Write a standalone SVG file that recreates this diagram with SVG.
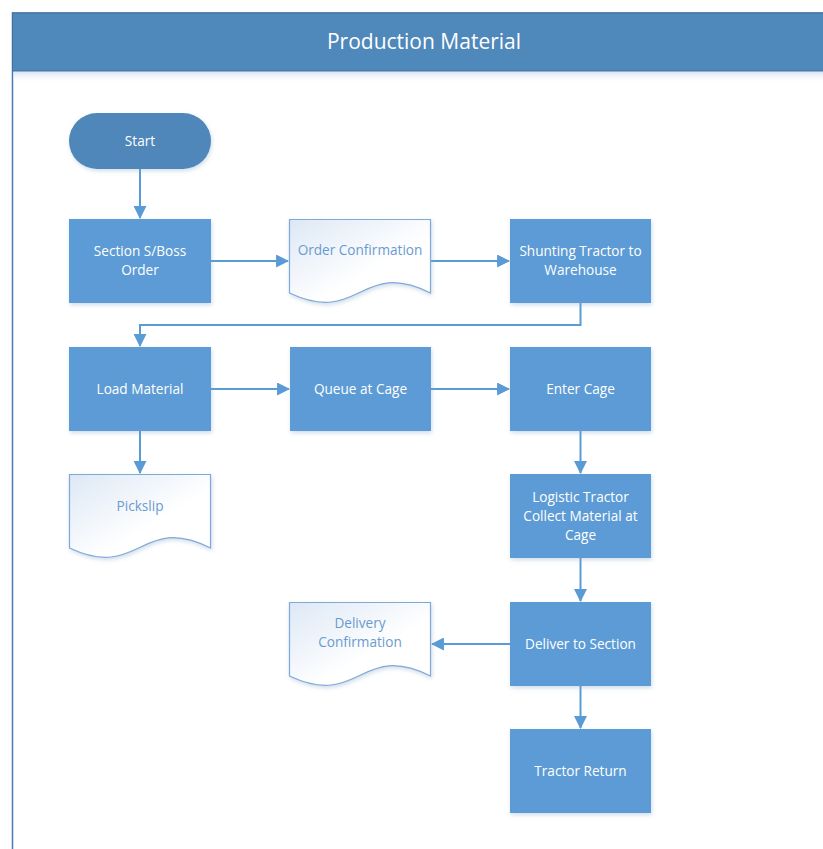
<svg xmlns="http://www.w3.org/2000/svg" width="823" height="849" viewBox="0 0 823 849">
  <defs>
    <style>
      .proc { fill: #5b9bd5; filter: url(#shadow); }
      .term { fill: #4f87ba; filter: url(#shadow); }
      .doc { fill: url(#docFill); stroke: #7ea9d8; stroke-width: 1.2; filter: url(#shadow); }
      .lbl { font-family: "Segoe UI", "Open Sans", "Noto Sans", sans-serif; font-size: 13.6px; fill: #ffffff; text-anchor: middle; }
      .dlbl { font-family: "Segoe UI", "Open Sans", "Noto Sans", sans-serif; font-size: 13.6px; fill: #6a9bcf; text-anchor: middle; }
      .title { font-family: "Segoe UI", "Open Sans", "Noto Sans", sans-serif; font-size: 21px; fill: #ffffff; text-anchor: middle; }
      .conn { fill: none; stroke: #5b9bd5; stroke-width: 2; marker-end: url(#arrow); }
    </style>
    <linearGradient id="docFill" x1="0" y1="0" x2="1" y2="1">
      <stop offset="0" stop-color="#dde8f5"/>
      <stop offset="0.6" stop-color="#ffffff"/>
    </linearGradient>
    <linearGradient id="hdrShade" x1="0" y1="0" x2="0" y2="1">
      <stop offset="0" stop-color="#c9d9ec" stop-opacity="0.7"/>
      <stop offset="1" stop-color="#ffffff" stop-opacity="0"/>
    </linearGradient>
    <filter id="shadow" x="-10%" y="-10%" width="125%" height="130%">
      <feDropShadow dx="1" dy="2" stdDeviation="2" flood-color="#7a9cc0" flood-opacity="0.35"/>
    </filter>
    <marker id="arrow" viewBox="0 0 12 12" markerWidth="13" markerHeight="13" refX="11" refY="6" orient="auto" markerUnits="userSpaceOnUse">
      <path d="M0,0 L12,6 L0,12 Z" fill="#5b9bd5"/>
    </marker>
  </defs>

  <!-- pool frame with title bar -->
  <g id="frame">
    <rect x="12.5" y="13" width="830" height="850" fill="#ffffff" stroke="#4a79ad" stroke-width="1.5"/>
    <rect x="13" y="71.5" width="830" height="12" fill="url(#hdrShade)"/>
    <rect x="12.5" y="13" width="830" height="58" fill="#4f88bb" stroke="#41719c" stroke-width="1"/>
    <text class="title" x="424" y="49">Production Material</text>
  </g>

  <!-- connectors -->
  <g id="connectors">
    <path class="conn" d="M140,169 V218"/>
    <path class="conn" d="M211,261 H288"/>
    <path class="conn" d="M431,261 H509"/>
    <path class="conn" d="M580.5,303 V325 H140 V346"/>
    <path class="conn" d="M140,431 V473"/>
    <path class="conn" d="M211,389 H289"/>
    <path class="conn" d="M431,389 H509"/>
    <path class="conn" d="M580.5,431 V473"/>
    <path class="conn" d="M580.5,558 V601"/>
    <path class="conn" d="M510,644 H432"/>
    <path class="conn" d="M580.5,686 V728"/>
  </g>

  <g id="start">
    <rect class="term" x="69" y="113" width="142" height="56" rx="28" ry="28"/>
    <text class="lbl" x="140" y="146">Start</text>
  </g>

  <g id="section-order">
    <rect class="proc" x="69" y="219" width="142" height="84"/>
    <text class="lbl" x="140" y="256">Section S/Boss</text>
    <text class="lbl" x="140" y="275">Order</text>
  </g>

  <g id="order-confirmation">
    <path class="doc" d="M289.5,219.5 H430.5 V293 C360,258 360,326 289.5,293 Z"/>
    <text class="dlbl" x="360" y="255">Order Confirmation</text>
  </g>

  <g id="shunting-tractor">
    <rect class="proc" x="510" y="219" width="141" height="84"/>
    <text class="lbl" x="580.5" y="256">Shunting Tractor to</text>
    <text class="lbl" x="580.5" y="275">Warehouse</text>
  </g>

  <g id="load-material">
    <rect class="proc" x="69" y="347" width="142" height="84"/>
    <text class="lbl" x="140" y="394">Load Material</text>
  </g>

  <g id="queue-cage">
    <rect class="proc" x="290" y="347" width="141" height="84"/>
    <text class="lbl" x="360.5" y="394">Queue at Cage</text>
  </g>

  <g id="enter-cage">
    <rect class="proc" x="510" y="347" width="141" height="84"/>
    <text class="lbl" x="580.5" y="394">Enter Cage</text>
  </g>

  <g id="pickslip">
    <path class="doc" d="M69.5,474.5 H210.5 V548 C140,513 140,581 69.5,548 Z"/>
    <text class="dlbl" x="140" y="511">Pickslip</text>
  </g>

  <g id="logistic-tractor">
    <rect class="proc" x="510" y="474" width="141" height="84"/>
    <text class="lbl" x="580.5" y="502">Logistic Tractor</text>
    <text class="lbl" x="580.5" y="521">Collect Material at</text>
    <text class="lbl" x="580.5" y="540">Cage</text>
  </g>

  <g id="delivery-confirmation">
    <path class="doc" d="M289.5,602.5 H430.5 V676 C360,641 360,709 289.5,676 Z"/>
    <text class="dlbl" x="360" y="628">Delivery</text>
    <text class="dlbl" x="360" y="647">Confirmation</text>
  </g>

  <g id="deliver-section">
    <rect class="proc" x="510" y="602" width="141" height="84"/>
    <text class="lbl" x="580.5" y="649">Deliver to Section</text>
  </g>

  <g id="tractor-return">
    <rect class="proc" x="510" y="729" width="141" height="84"/>
    <text class="lbl" x="580.5" y="776">Tractor Return</text>
  </g>
</svg>
